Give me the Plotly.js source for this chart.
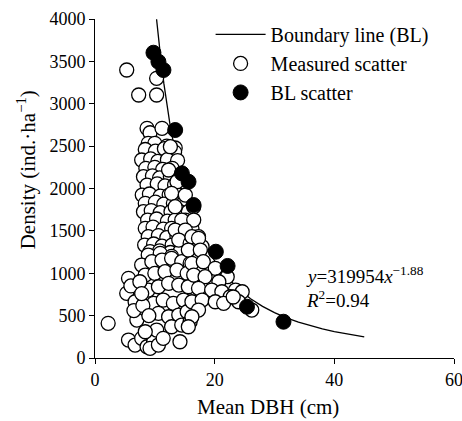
<!DOCTYPE html>
<html>
<head>
<meta charset="utf-8">
<script src="https://cdn.plot.ly/plotly-3.0.1.min.js"></script>
<style>html,body{margin:0;padding:0;background:#fff;}#chart{width:462px;height:421px;}</style>
</head>
<body>
<div id="chart"></div>
<script>
// Measured scatter (Mean DBH cm, Density ind/ha)
const measuredDBH = [
  5.3,10.3,7.3,10.3,8.7,9.2,11.2,8.9,10.0,12.0,13.4,
  8.4,10.1,11.6,13.3,
  7.8,9.3,10.5,12.1,13.8,
  8.5,10.0,11.3,12.9,
  8.1,9.6,10.8,12.6,
  8.7,10.4,11.7,13.3,14.6,
  7.9,9.1,10.9,12.4,14.0,
  8.4,10.1,11.5,13.1,14.8,
  8.1,9.4,10.9,12.7,14.2,15.6,
  8.8,10.3,12.1,13.4,15.1,
  8.4,9.7,11.4,12.8,14.6,16.2,
  8.9,10.6,12.0,13.7,15.4,
  8.3,9.8,11.2,12.9,14.5,15.9,
  9.2,10.8,12.6,14.2,
  12.6,12.3,13.7,12.8,15.1,13.4,16.5,14.5,16.5,13.4,15.1,17.3,14.0,15.9,17.9,
  8.9,10.9,12.8,
  7.8,9.5,11.2,12.8,14.5,15.9,
  5.6,8.4,10.0,11.7,13.7,15.4,
  5.3,6.7,8.9,10.6,12.3,14.0,15.6,
  7.3,7.0,9.8,11.4,13.1,14.8,
  10.6,12.3,14.0,15.4,
  12.8,14.5,15.9,
  2.2,
  5.6,6.7,7.8,8.7,9.8,10.3,9.2,10.6,11.4,8.4,14.2,
  16.2,17.3,15.6,17.6,16.2,18.1,20.1,22.1,16.5,18.4,20.7,23.5,24.6,17.3,19.5,21.2,22.6,24.0,26.2,16.2,17.9,20.1,21.5,17.3,16.2,15.6,
  6.0,7.5,6.5,8.0,7.8,9.0,23.1
];
const measuredDensity = [
  3398,3300,3103,3103,2710,2658,2710,2533,2533,2501,2478,
  2460,2440,2470,2430,
  2336,2350,2320,2340,2330,
  2238,2250,2225,2238,
  2139,2150,2125,2139,
  2041,2055,2030,2041,2041,
  1923,1935,1910,1923,1923,
  1825,1840,1815,1825,1825,
  1726,1740,1715,1726,1726,1726,
  1628,1640,1615,1628,1628,
  1530,1545,1520,1530,1530,1530,
  1431,1445,1420,1431,1431,
  1333,1345,1320,1333,1333,1333,
  1254,1265,1245,1254,
  2493,2218,2080,1943,1923,1785,1785,1628,1628,1510,1510,1431,1392,1353,1313,
  1215,1235,1200,
  1097,1136,1156,1176,1136,1117,
  940,979,999,1018,1038,999,
  763,664,802,841,881,861,841,
  546,448,645,684,645,684,
  527,487,507,546,
  369,389,428,
  409,
  212,153,232,133,192,330,114,153,232,310,192,
  1431,1412,1274,1274,1117,1136,1058,959,979,959,900,802,782,822,802,782,723,664,566,664,684,664,645,566,487,369,
  850,900,560,620,760,500,720
];
// Boundary-line (BL) scatter
const blDBH = [9.77,10.6,11.44,13.4,14.52,15.63,16.47,20.2,22.16,25.4,31.5];
const blDensity = [3602,3496,3398,2690,2179,2080,1805,1254,1086,605,428];
// Boundary line fit shown in the chart: y = 319954 x^-1.88, drawn from DBH 10.29 to 45
const blCoefA = 319954;
const blExpB = -1.88;
const lineDBH = [10.29,10.5,11,11.5,12,12.5,13,13.5,14,15,16,17,18,19,20,22,24,26,28,30,32,34,36,38,40,42,45];
const lineDensity = lineDBH.map(x => blCoefA * Math.pow(x, blExpB));

const FONT = 'Liberation Serif, Times New Roman, serif';

const traces = [
  {x: lineDBH, y: lineDensity, type: 'scatter', mode: 'lines', name: 'Boundary line (BL)',
   line: {color: '#000', width: 1.3}, hoverinfo: 'skip'},
  {x: measuredDBH, y: measuredDensity, type: 'scatter', mode: 'markers', name: 'Measured scatter',
   marker: {symbol: 'circle', size: 14, color: '#fff', line: {color: '#000', width: 1.3}}},
  {x: blDBH, y: blDensity, type: 'scatter', mode: 'markers', name: 'BL scatter',
   marker: {symbol: 'circle', size: 15, color: '#000', line: {color: '#000', width: 1}}}
];

const axisCommon = {
  showgrid: false, zeroline: false, showline: true, linecolor: '#000', linewidth: 1,
  ticks: 'outside', ticklen: 5, tickwidth: 1, tickcolor: '#000',
  ticklabeloverflow: 'allow',
  tickfont: {family: FONT, size: 18, color: '#000'}
};

const layout = {
  width: 462, height: 421,
  margin: {l: 95, r: 8, t: 19, b: 63},
  paper_bgcolor: '#fff', plot_bgcolor: '#fff',
  font: {family: FONT, color: '#000'},
  xaxis: Object.assign({}, axisCommon, {
    range: [0, 60], tickvals: [0, 20, 40, 60]
  }),
  yaxis: Object.assign({}, axisCommon, {
    range: [0, 4000], dtick: 500
  }),
  showlegend: true,
  legend: {x: 0.322, y: 1.012, xanchor: 'left', yanchor: 'top', bgcolor: 'rgba(0,0,0,0)',
           font: {family: FONT, size: 20, color: '#000'}, tracegroupgap: 0, itemwidth: 50},
  annotations: [
    {xref: 'paper', yref: 'paper', x: 0.481, y: -0.144, xanchor: 'center', yanchor: 'middle', showarrow: false,
     text: 'Mean DBH (cm)', font: {family: FONT, size: 21, color: '#000'}},
    {xref: 'paper', yref: 'paper', x: -0.19, y: 0.556, xanchor: 'center', yanchor: 'middle', showarrow: false,
     textangle: -90, text: 'Density (ind.·ha<sup>−1</sup>)', font: {family: FONT, size: 21, color: '#000'}},
    {xref: 'x', yref: 'y', x: 35, y: 975, xanchor: 'left', yanchor: 'middle', showarrow: false,
     text: '<i>y</i>=319954<i>x</i><sup>−1.88</sup>', font: {family: FONT, size: 19, color: '#000'}},
    {xref: 'x', yref: 'y', x: 35, y: 695, xanchor: 'left', yanchor: 'middle', showarrow: false,
     text: '<i>R</i><sup>2</sup>=0.94', font: {family: FONT, size: 19, color: '#000'}}
  ]
};

Plotly.newPlot('chart', traces, layout, {displayModeBar: false, staticPlot: true});
</script>
</body>
</html>
